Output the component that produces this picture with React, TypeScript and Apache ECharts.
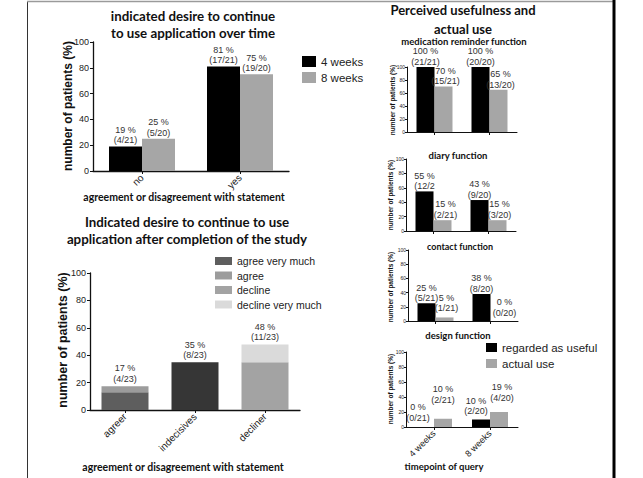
import React, { useEffect, useRef } from 'react';
import * as echarts from 'echarts';

// Panel 1: desire over time
const p1Categories = ['no', 'yes'];
const p1Week4 = [19, 81];
const p1Week8 = [25, 75];
const p1Week4Labels = ['19 %\n(4/21)', '81 %\n(17/21)'];
const p1Week8Labels = ['25 %\n(5/20)', '75 %\n(19/20)'];

// Panel 2: after completion of the study (stacked)
const p2Categories = ['agreer', 'indecisives', 'decliner'];
const p2AgreeVeryMuch = [13, null, null];
const p2Agree = [4.4, null, null];
const p2Indecisive = [null, 34.8, null];
const p2Decline = [null, null, 34.8];
const p2DeclineVeryMuch = [null, null, 13];
const p2TotalLabels = ['17 %\n(4/23)', '35 %\n(8/23)', '48 %\n(11/23)'];

// Right panels: perceived usefulness and actual use
const timeCategories = ['4 weeks', '8 weeks'];
const medUseful = [100, 100];
const medUse = [70, 65];
const medUsefulLabels = ['100 %\n(21/21)', '100 %\n(20/20)'];
const medUseLabels = ['70 %\n(15/21)', '65 %\n(13/20)'];
const diaryUseful = [55, 43];
const diaryUse = [15, 15];
const diaryUsefulLabels = ['55 %\n(12/2', '43 %\n(9/20)'];
const diaryUseLabels = ['15 %\n(2/21)', '15 %\n(3/20)'];
const contactUseful = [25, 38];
const contactUse = [5, 0];
const contactUsefulLabels = ['25 %\n(5/21)', '38 %\n(8/20)'];
const contactUseLabels = ['5 %\n(1/21)', '0 %\n(0/20)'];
const designUseful = [0, 10];
const designUse = [11, 20];
const designUsefulLabels = ['0 %\n(0/21)', '10 %\n(2/20)'];
const designUseLabels = ['10 %\n(2/21)', '19 %\n(4/20)'];

const LABEL_FONT = 'Liberation Sans';
const TITLE_FONT = 'Lato';

function withLabels(values: (number | null)[], labels: (string | null)[], extra: any[] = []) {
  return values.map((v, i) =>
    v === null
      ? '-'
      : labels[i]
      ? { value: v, label: { show: true, formatter: labels[i] as string, ...(extra[i] || {}) } }
      : { value: v, label: { show: false } }
  );
}

function txt(text: string, x: number, y: number, size: number, o: any = {}) {
  return {
    type: 'text',
    x,
    y,
    rotation: o.rot || 0,
    style: {
      text,
      fontSize: size,
      fontWeight: o.weight || 'bold',
      fontFamily: o.family || TITLE_FONT,
      fill: o.color || '#111',
      align: 'center',
      verticalAlign: 'middle',
      lineHeight: o.lh,
    },
  };
}

export default function App() {
  const ref = useRef<HTMLDivElement>(null);
  useEffect(() => {
    if (!ref.current) return;
    const chart = echarts.init(ref.current, null, { renderer: 'svg' });

    const grids = [
      { left: 93, top: 42, width: 196, height: 129 },
      { left: 90, top: 273, width: 210, height: 137 },
      { left: 407, top: 67, width: 110, height: 65 },
      { left: 406, top: 159, width: 110, height: 72 },
      { left: 408, top: 250, width: 110, height: 71 },
      { left: 406, top: 352, width: 112, height: 75 },
    ];
    const cats = [p1Categories, p2Categories, timeCategories, timeCategories, timeCategories, timeCategories];
    const showX = [true, true, false, false, false, true];
    const xFont = [10, 10, 9, 9, 9, 9];
    const small = [false, false, true, true, true, true];

    const xAxis = grids.map((_, i) => ({
      type: 'category',
      gridIndex: i,
      data: cats[i],
      axisLine: { lineStyle: { color: '#111', width: small[i] ? 1 : 1.3 } },
      axisTick: { show: true, alignWithLabel: true, length: 3, lineStyle: { color: '#111' } },
      axisLabel: {
        show: showX[i],
        rotate: 45,
        fontSize: xFont[i],
        color: '#222',
        fontFamily: LABEL_FONT,
        margin: 5,
      },
    }));
    const yAxis = grids.map((_, i) => ({
      type: 'value',
      gridIndex: i,
      min: 0,
      max: 100,
      interval: 20,
      splitLine: { show: false },
      axisLine: { show: true, lineStyle: { color: '#111', width: small[i] ? 1 : 1.3 } },
      axisTick: { show: true, length: small[i] ? 2 : 3, lineStyle: { color: '#111' } },
      axisLabel: {
        fontSize: small[i] ? 5 : 9,
        color: '#222',
        fontFamily: LABEL_FONT,
        margin: small[i] ? 2 : 4,
      },
    }));

    const baseLabel = (size: number, lh: number, dist: number) => ({
      show: true,
      position: 'top',
      distance: dist,
      fontSize: size,
      lineHeight: lh,
      color: '#333',
      fontFamily: LABEL_FONT,
    });

    const series: any[] = [];
    series.push({
      name: '4 weeks', type: 'bar', xAxisIndex: 0, yAxisIndex: 0, barWidth: 33, barGap: '0%',
      itemStyle: { color: '#000' }, label: baseLabel(9, 10.5, 1),
      data: withLabels(p1Week4, p1Week4Labels),
    });
    series.push({
      name: '8 weeks', type: 'bar', xAxisIndex: 0, yAxisIndex: 0, barWidth: 33, barGap: '0%',
      itemStyle: { color: '#a6a6a6' }, label: baseLabel(9, 10.5, 1),
      data: withLabels(p1Week8, p1Week8Labels),
    });

    const p2Series = [
      { name: 'agree very much', data: p2AgreeVeryMuch, color: '#5e5e5e' },
      { name: 'agree', data: p2Agree, color: '#9c9c9c' },
      { name: 'indecisive', data: p2Indecisive, color: '#363636' },
      { name: 'decline', data: p2Decline, color: '#a3a3a3' },
      { name: 'decline very much', data: p2DeclineVeryMuch, color: '#dadada' },
    ];
    const topIndex = p2Categories.map((_, c) => {
      let t = -1;
      p2Series.forEach((s, si) => { if (s.data[c] !== null) t = si; });
      return t;
    });
    p2Series.forEach((s, si) => {
      const labels = p2Categories.map((_, c) => (topIndex[c] === si ? p2TotalLabels[c] : null));
      series.push({
        name: s.name, type: 'bar', stack: 'p2', xAxisIndex: 1, yAxisIndex: 1, barWidth: 47,
        itemStyle: { color: s.color }, label: baseLabel(9, 10.5, 2),
        data: withLabels(s.data, labels),
      });
    });

    const right = [
      [medUseful, medUse, medUsefulLabels, medUseLabels],
      [diaryUseful, diaryUse, diaryUsefulLabels, diaryUseLabels],
      [contactUseful, contactUse, contactUsefulLabels, contactUseLabels],
      [designUseful, designUse, designUsefulLabels, designUseLabels],
    ] as any[];
    // label placement tweaks (positions only)
    const usefulExtra: any[][] = [
      [{}, {}],
      [{}, {}],
      [{}, {}],
      [{ offset: [-7, 0], distance: 4 }, { offset: [-5, 0], distance: 3 }],
    ];
    const useExtra: any[][] = [
      [{ offset: [2, 0] }, { offset: [2, 0] }],
      [{ offset: [3, 0] }, { offset: [2, 0] }],
      [{ offset: [2, 0], distance: 4 }, { offset: [5, 0], distance: 3 }],
      [{ distance: 14 }, { offset: [3, 0], distance: 9 }],
    ];
    right.forEach((r, k) => {
      const gi = k + 2;
      series.push({
        name: 'regarded as useful', type: 'bar', xAxisIndex: gi, yAxisIndex: gi, barWidth: 18, barGap: '0%',
        itemStyle: { color: '#000' }, label: baseLabel(9, 10.5, 0),
        data: withLabels(r[0], r[2], usefulExtra[k]),
      });
      series.push({
        name: 'actual use', type: 'bar', xAxisIndex: gi, yAxisIndex: gi, barWidth: 18, barGap: '0%',
        itemStyle: { color: '#a6a6a6' }, label: baseLabel(9, 10.5, 0),
        data: withLabels(r[1], r[3], useExtra[k]),
      });
    });

    const legendBase = {
      orient: 'vertical',
      icon: 'rect',
      selectedMode: false,
      padding: 0,
      textStyle: { fontFamily: LABEL_FONT, color: '#222' },
    };

    const R = Math.PI / 2;
    const graphic: any[] = [
      { type: 'line', shape: { x1: 27.5, y1: 1, x2: 27.5, y2: 478 }, style: { stroke: '#333', lineWidth: 1 } },
      { type: 'line', shape: { x1: 27, y1: 1.5, x2: 613, y2: 1.5 }, style: { stroke: '#9a9a9a', lineWidth: 1.5 } },
      { type: 'line', shape: { x1: 614, y1: 0, x2: 614, y2: 478 }, style: { stroke: '#000', lineWidth: 3 } },
      txt('indicated desire to continue\nto use application over time', 193, 24.5, 13.3, { lh: 17 }),
      txt('agreement or disagreement with statement', 184, 197, 10.5),
      txt('number of patients (%)', 68, 106, 12, { rot: R, family: LABEL_FONT }),
      txt('Indicated desire to continue to use\napplication after completion of the study', 187, 230.5, 13.3, { lh: 17 }),
      txt('agreement or disagreement with statement', 183, 467, 10.5),
      txt('number of patients (%)', 63, 340, 12.5, { rot: R, family: LABEL_FONT }),
      txt('Perceived usefulness and\nactual use', 463, 19.5, 13, { lh: 19 }),
      txt('medication reminder function', 464, 41, 9.5),
      txt('diary function', 458, 155, 9.5),
      txt('contact function', 460, 246, 9),
      txt('design function', 458, 335, 9.5),
      txt('timepoint of query', 444, 466, 9.5),
      txt('number of patients (%)', 392, 100, 6.5, { rot: R, family: LABEL_FONT }),
      txt('number of patients (%)', 390, 195, 6.5, { rot: R, family: LABEL_FONT }),
      txt('number of patients (%)', 390, 287, 6.5, { rot: R, family: LABEL_FONT }),
      txt('number of patients (%)', 390, 389, 6.5, { rot: R, family: LABEL_FONT }),
    ];

    chart.setOption({
      animation: false,
      backgroundColor: '#fff',
      grid: grids.map((g) => ({ ...g, containLabel: false })),
      xAxis,
      yAxis,
      legend: [
        {
          ...legendBase, left: 302, top: 55, itemWidth: 14, itemHeight: 11, itemGap: 3,
          textStyle: { ...legendBase.textStyle, fontSize: 11.5, lineHeight: 13 },
          data: ['4 weeks', '8 weeks'],
        },
        {
          ...legendBase, left: 215, top: 255, itemWidth: 17, itemHeight: 8, itemGap: 2.5,
          textStyle: { ...legendBase.textStyle, fontSize: 10.5, lineHeight: 12 },
          data: ['agree very much', 'agree', 'decline', 'decline very much'],
        },
        {
          ...legendBase, left: 486, top: 341, itemWidth: 11, itemHeight: 9, itemGap: 3,
          textStyle: { ...legendBase.textStyle, fontSize: 11.5, lineHeight: 13 },
          data: ['regarded as useful', 'actual use'],
        },
      ],
      series,
      graphic,
    });
    return () => chart.dispose();
  }, []);
  return (
    <div
      ref={ref}
      style={{ position: 'fixed', left: 0, top: 0, width: 643, height: 478, background: '#fff' }}
    />
  );
}
